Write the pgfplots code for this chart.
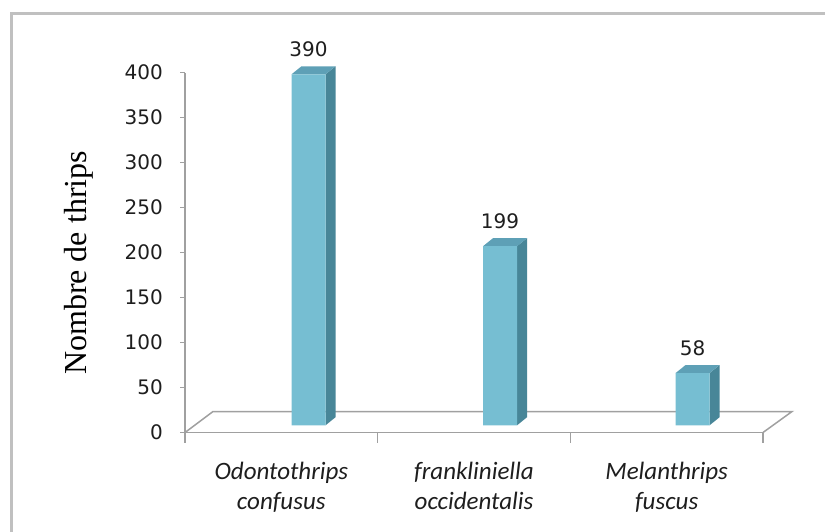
\documentclass[border=0pt]{standalone}
\usepackage{fontspec}
\usepackage{pgfplots}
\pgfplotsset{compat=1.18}
\setmainfont{Liberation Serif}
\newfontfamily\dv{DejaVu Sans}
\newfontfamily\cl{Carlito}
\definecolor{front}{RGB}{118,190,210}
\definecolor{side}{RGB}{72,134,152}
\definecolor{topc}{RGB}{94,160,182}
\definecolor{axgray}{RGB}{160,160,160}
\definecolor{framegray}{RGB}{192,192,192}
\definecolor{txt}{RGB}{30,30,30}
\begin{document}
\begin{tikzpicture}[x=1pt,y=1pt]
\useasboundingbox (0,0) rectangle (825,531);
\draw[framegray, line width=3pt] (11.5,-5) -- (11.5,517.5) -- (830,517.5);
\begin{axis}[
  at={(185pt,98.5pt)}, anchor=origin,
  width=578pt, height=360pt, scale only axis,
  xmin=0, xmax=578, ymin=0, ymax=400,
  clip=false,
  axis lines*=left,
  axis line style={axgray, line width=1.5pt},
  ytick={0,50,...,400},
  tick align=outside,
  major tick length=5pt,
  ytick style={axgray, line width=1.3pt},
  xtick style={draw=none},
  xtick={96.33,289,481.67},
  xticklabels={{Odontothrips\\confusus},{frankliniella\\occidentalis},{Melanthrips\\fuscus}},
  xticklabel style={align=center, anchor=north, inner sep=0pt, yshift=-24pt,
    font=\cl\itshape\fontsize{25}{30}\selectfont, text=txt},
  yticklabel style={anchor=east, inner sep=0pt, xshift=-17pt,
    font=\dv\fontsize{20}{20}\selectfont, text=txt},
  /pgf/number format/assume math mode=true,
  ylabel={Nombre de thrips},
  every axis y label/.style={at={(rel axis cs:0,0.471)}, xshift=-106pt, rotate=90,
    anchor=center, font=\fontsize{32}{32}\selectfont, text=black},
]
% floor
\draw[axgray, line width=1.5pt] (axis cs:0,0) -- (axis cs:28,23.3) -- (axis cs:607,23.3) -- (axis cs:578,0);
\draw[axgray, line width=1.3pt] (axis cs:0,0) -- ++(0,-10pt);
\draw[axgray, line width=1.3pt] (axis cs:192.67,0) -- ++(0,-10pt);
\draw[axgray, line width=1.3pt] (axis cs:385.33,0) -- ++(0,-10pt);
\draw[axgray, line width=1.3pt] (axis cs:578,0) -- ++(0,-10pt);
% side faces
\addplot[fill=side, draw=none, yshift=7.2pt] coordinates {(140.5,0) (150.5,8.9) (150.5,398.9) (140.5,390)};
\addplot[fill=side, draw=none, yshift=7.2pt] coordinates {(332,0) (342,8.9) (342,207.9) (332,199)};
\addplot[fill=side, draw=none, yshift=7.2pt] coordinates {(524.5,0) (534.5,8.9) (534.5,66.9) (524.5,58)};
% top faces
\addplot[fill=topc, draw=none, yshift=7.2pt] coordinates {(106.5,390) (140.5,390) (150.5,398.9) (116.5,398.9)};
\addplot[fill=topc, draw=none, yshift=7.2pt] coordinates {(298,199) (332,199) (342,207.9) (308,207.9)};
\addplot[fill=topc, draw=none, yshift=7.2pt] coordinates {(490.5,58) (524.5,58) (534.5,66.9) (500.5,66.9)};
% front faces
\addplot[ybar, bar width=34pt, fill=front, draw=none, yshift=7.2pt,
  nodes near coords,
  every node near coord/.append style={anchor=base, inner sep=0pt, yshift=18pt,
    font=\dv\fontsize{20}{20}\selectfont, text=txt}]
  coordinates {(123.5,390) (315,199) (507.5,58)};
\end{axis}
\end{tikzpicture}
\end{document}
